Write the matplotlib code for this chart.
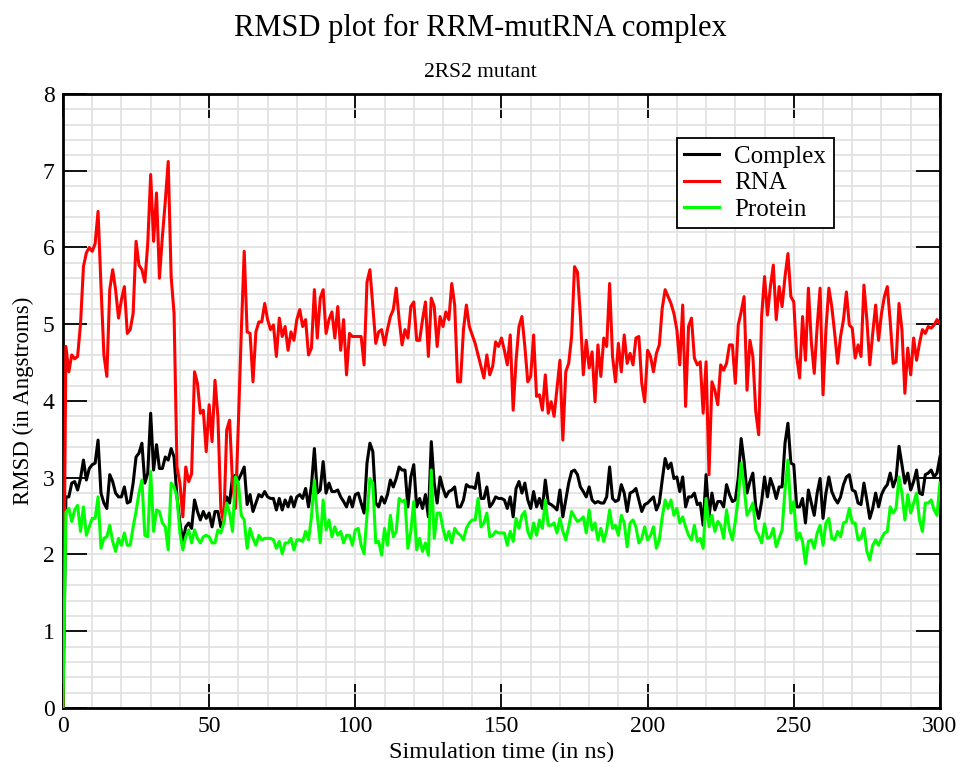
import matplotlib
matplotlib.use("Agg")
import matplotlib.pyplot as plt
from matplotlib.ticker import MultipleLocator
import numpy as np

plt.rcParams['font.family'] = ['Liberation Serif', 'DejaVu Serif']

# RMSD (Angstroms) sampled every 1 ns, 0..300 ns
rna = [0.00,
       4.71, 4.38, 4.60, 4.55, 4.58, 5.00, 5.75, 5.93, 6.00, 5.95,
       6.05, 6.47, 5.50, 4.60, 4.32, 5.45, 5.71, 5.45, 5.08, 5.32,
       5.49, 4.88, 4.93, 5.14, 6.08, 5.77, 5.71, 5.55, 6.05, 6.95,
       6.08, 6.71, 5.60, 6.14, 6.60, 7.12, 5.62, 5.14, 3.14, 2.93,
       2.49, 3.14, 2.95, 3.05, 4.38, 4.23, 3.84, 3.88, 3.34, 3.95,
       3.47, 4.27, 3.80, 2.60, 2.40, 3.62, 3.75, 2.93, 2.60, 3.71,
       4.90, 5.95, 4.90, 4.88, 4.25, 4.90, 5.03, 5.03, 5.27, 5.06,
       4.93, 4.99, 4.58, 5.08, 4.84, 4.97, 4.66, 4.90, 4.79, 5.06,
       5.19, 4.97, 5.06, 4.60, 4.69, 5.45, 4.82, 5.34, 5.45, 4.88,
       5.06, 5.16, 4.82, 5.23, 4.66, 5.06, 4.34, 4.88, 4.84, 4.84,
       4.84, 4.84, 4.47, 5.55, 5.71, 5.23, 4.75, 4.90, 4.93, 4.73,
       4.93, 5.10, 5.19, 5.47, 5.06, 4.73, 4.93, 4.82, 5.23, 5.29,
       4.79, 4.79, 5.06, 5.29, 4.58, 5.34, 5.23, 4.71, 5.10, 4.97,
       5.16, 5.06, 5.53, 5.25, 4.25, 4.25, 4.93, 5.25, 4.97, 4.86,
       4.75, 4.60, 4.45, 4.30, 4.60, 4.34, 4.45, 4.77, 4.71, 4.82,
       4.66, 4.47, 4.86, 3.88, 4.53, 4.97, 5.10, 4.71, 4.25, 4.32,
       4.86, 4.06, 4.08, 3.88, 4.34, 3.84, 3.99, 3.80, 4.16, 4.53,
       3.49, 4.38, 4.49, 4.84, 5.75, 5.68, 5.10, 4.34, 4.79, 4.43,
       4.64, 3.99, 4.73, 4.32, 4.82, 4.71, 5.53, 4.58, 4.25, 4.75,
       4.38, 4.86, 4.49, 4.62, 4.47, 4.82, 4.84, 4.23, 3.99, 4.66,
       4.58, 4.38, 4.62, 4.73, 5.21, 5.45, 5.36, 5.27, 5.14, 4.93,
       4.47, 5.25, 3.93, 4.97, 5.08, 4.56, 4.47, 4.51, 3.84, 4.51,
       3.04, 4.25, 4.14, 3.95, 4.47, 4.40, 4.49, 4.73, 4.73, 4.23,
       4.99, 5.16, 5.36, 4.14, 4.79, 4.58, 3.86, 3.56, 5.10, 5.62,
       5.12, 5.49, 5.77, 5.06, 5.49, 5.23, 5.62, 5.92, 5.36, 5.29,
       4.58, 4.30, 5.10, 4.53, 5.47, 4.77, 4.36, 4.97, 5.47, 4.08,
       4.93, 5.47, 5.23, 4.88, 4.49, 4.84, 5.06, 5.42, 4.99, 4.95,
       4.56, 4.73, 4.58, 5.51, 5.06, 4.47, 4.88, 5.25, 4.79, 5.14,
       5.36, 5.49, 5.03, 4.49, 4.51, 5.27, 4.93, 4.10, 4.69, 4.34,
       4.82, 4.53, 4.75, 4.93, 4.88, 4.97, 4.95, 4.99, 5.06, 5.01]

complex_ = [0.00,
            2.75, 2.75, 2.93, 2.95, 2.84, 2.99, 3.23, 2.97, 3.12, 3.17,
            3.19, 3.49, 2.80, 2.67, 2.60, 3.04, 2.95, 2.80, 2.75, 2.75,
            2.88, 2.67, 2.69, 2.93, 3.27, 3.32, 3.45, 2.93, 3.06, 3.84,
            3.10, 3.43, 3.12, 3.12, 3.27, 3.23, 3.38, 3.27, 2.75, 2.41,
            2.17, 2.36, 2.41, 2.34, 2.71, 2.56, 2.45, 2.56, 2.47, 2.54,
            2.36, 2.56, 2.56, 2.36, 2.45, 2.75, 2.67, 3.01, 3.03, 2.97,
            3.05, 3.14, 2.65, 2.78, 2.56, 2.67, 2.78, 2.75, 2.82, 2.75,
            2.73, 2.73, 2.58, 2.73, 2.58, 2.71, 2.62, 2.75, 2.62, 2.75,
            2.78, 2.73, 2.86, 2.62, 2.90, 3.38, 2.80, 2.84, 3.21, 2.80,
            2.93, 2.82, 2.82, 2.84, 2.75, 2.69, 2.62, 2.75, 2.62, 2.78,
            2.80, 2.67, 2.54, 3.19, 3.45, 3.34, 2.67, 2.62, 2.75, 2.67,
            2.78, 2.97, 2.88, 2.99, 3.14, 3.10, 3.10, 2.62, 3.01, 3.17,
            2.62, 2.73, 2.60, 2.78, 2.49, 3.47, 2.93, 2.67, 3.01, 2.86,
            2.75, 2.82, 2.84, 2.88, 2.62, 2.62, 2.71, 2.91, 2.88, 2.88,
            2.86, 3.06, 2.73, 2.73, 2.88, 2.62, 2.67, 2.75, 2.73, 2.73,
            2.71, 2.60, 2.75, 2.49, 2.86, 2.95, 2.80, 2.93, 2.71, 2.60,
            2.82, 2.62, 2.73, 2.60, 2.97, 2.67, 2.65, 2.62, 2.58, 2.84,
            2.49, 2.71, 2.93, 3.08, 3.10, 3.04, 2.88, 2.82, 2.75, 2.88,
            2.71, 2.67, 2.69, 2.67, 2.67, 2.75, 3.14, 2.73, 2.69, 2.71,
            2.91, 2.80, 2.56, 2.80, 2.82, 2.86, 2.71, 2.56, 2.65, 2.67,
            2.71, 2.75, 2.58, 2.67, 2.97, 3.25, 3.12, 3.19, 2.99, 3.01,
            2.82, 3.01, 2.62, 2.75, 2.75, 2.80, 2.65, 2.67, 2.38, 3.04,
            2.49, 2.80, 2.58, 2.69, 2.69, 2.62, 2.91, 2.78, 2.69, 2.71,
            2.99, 3.51, 3.21, 2.80, 2.95, 3.06, 2.62, 2.47, 2.69, 3.01,
            2.75, 2.99, 2.88, 2.73, 2.88, 2.88, 3.45, 3.71, 3.19, 3.17,
            2.62, 2.62, 2.73, 2.41, 2.84, 2.67, 2.51, 2.80, 2.99, 2.47,
            2.80, 3.01, 2.82, 2.73, 2.67, 2.75, 2.91, 3.01, 3.04, 2.84,
            2.82, 2.67, 2.65, 2.93, 2.71, 2.47, 2.60, 2.80, 2.62, 2.78,
            2.86, 2.91, 3.06, 2.88, 2.99, 3.41, 3.17, 2.93, 3.06, 2.84,
            2.95, 3.10, 2.80, 2.78, 3.04, 3.06, 3.10, 3.01, 3.06, 3.27]

protein = [0.00,
           2.55, 2.60, 2.43, 2.58, 2.64, 2.30, 2.62, 2.25, 2.36, 2.47,
           2.47, 2.75, 2.08, 2.21, 2.23, 2.38, 2.17, 2.04, 2.21, 2.12,
           2.28, 2.12, 2.12, 2.36, 2.56, 2.80, 2.97, 2.25, 2.23, 3.08,
           2.30, 2.58, 2.56, 2.41, 2.36, 2.06, 2.93, 2.88, 2.75, 2.28,
           2.06, 2.23, 2.32, 2.15, 2.32, 2.21, 2.15, 2.23, 2.25, 2.23,
           2.15, 2.15, 2.32, 2.28, 2.41, 2.67, 2.54, 2.30, 3.01, 2.93,
           2.51, 2.45, 2.08, 2.34, 2.21, 2.12, 2.25, 2.19, 2.21, 2.21,
           2.21, 2.19, 2.08, 2.17, 2.01, 2.15, 2.15, 2.21, 2.06, 2.19,
           2.19, 2.17, 2.30, 2.19, 2.49, 2.97, 2.51, 2.15, 2.71, 2.32,
           2.45, 2.23, 2.36, 2.25, 2.30, 2.15, 2.25, 2.25, 2.12, 2.32,
           2.34, 2.12, 2.01, 2.51, 2.99, 2.93, 2.15, 2.17, 1.99, 2.34,
           2.12, 2.51, 2.23, 2.30, 2.73, 2.69, 2.71, 2.08, 2.30, 2.69,
           2.06, 2.21, 2.04, 2.15, 1.99, 3.10, 2.21, 2.54, 2.54, 2.34,
           2.19, 2.30, 2.15, 2.34, 2.28, 2.25, 2.19, 2.34, 2.41, 2.45,
           2.45, 2.73, 2.36, 2.41, 2.54, 2.23, 2.25, 2.30, 2.28, 2.28,
           2.28, 2.12, 2.30, 2.17, 2.47, 2.34, 2.51, 2.56, 2.30, 2.21,
           2.41, 2.25, 2.45, 2.34, 2.71, 2.38, 2.38, 2.41, 2.28, 2.47,
           2.30, 2.19, 2.36, 2.56, 2.49, 2.43, 2.45, 2.49, 2.28, 2.58,
           2.32, 2.41, 2.19, 2.34, 2.17, 2.32, 2.58, 2.34, 2.38, 2.25,
           2.51, 2.41, 2.10, 2.41, 2.45, 2.36, 2.15, 2.21, 2.36, 2.19,
           2.25, 2.36, 2.08, 2.19, 2.49, 2.71, 2.60, 2.71, 2.51, 2.60,
           2.41, 2.49, 2.36, 2.25, 2.19, 2.38, 2.17, 2.21, 2.08, 2.73,
           2.36, 2.51, 2.30, 2.43, 2.38, 2.21, 2.58, 2.32, 2.19, 2.43,
           2.73, 3.19, 2.88, 2.51, 2.58, 2.67, 2.32, 2.25, 2.15, 2.40,
           2.21, 2.23, 2.34, 2.10, 2.21, 2.32, 2.84, 3.23, 2.54, 2.69,
           2.19, 2.28, 2.17, 1.88, 2.17, 2.19, 2.08, 2.28, 2.38, 2.12,
           2.41, 2.47, 2.21, 2.19, 2.30, 2.23, 2.41, 2.43, 2.60, 2.41,
           2.41, 2.19, 2.21, 2.34, 2.04, 1.93, 2.12, 2.19, 2.12, 2.21,
           2.28, 2.30, 2.62, 2.54, 2.60, 3.01, 2.80, 2.45, 2.78, 2.54,
           2.67, 2.80, 2.45, 2.30, 2.67, 2.67, 2.71, 2.58, 2.51, 2.93]

time_ns = np.arange(len(rna))

fig = plt.figure(figsize=(9.6, 7.62), dpi=100)
ax = fig.add_axes([0.0656, 0.0709, 0.9135, 0.8058])

ax.plot(time_ns, complex_, color='black', lw=2.2, label='Complex', zorder=3)
ax.plot(time_ns, rna, color='#ff0000', lw=2.2, label='RNA', zorder=3)
ax.plot(time_ns, protein, color='#00ff00', lw=2.2, label='Protein', zorder=3)

ax.set_xlim(0, 300)
ax.set_ylim(0, 8)
ax.xaxis.set_major_locator(MultipleLocator(50))
ax.xaxis.set_minor_locator(MultipleLocator(10))
ax.yaxis.set_major_locator(MultipleLocator(1))
ax.yaxis.set_minor_locator(MultipleLocator(0.2))
ax.grid(which='both', color='#e0e0e0', lw=1.2, zorder=0)
ax.set_axisbelow(True)
ax.tick_params(which='major', direction='in', length=17, width=1.3, top=True, right=True,
               labelsize=17, pad=6, colors='black')
ax.tick_params(which='minor', length=0, top=True, right=True)
for s in ax.spines.values():
    s.set_linewidth(2)

ax.set_xlabel('Simulation time (in ns)', fontsize=17.5, labelpad=3)
ax.set_ylabel('RMSD (in Angstroms)', fontsize=16.5, labelpad=6)
fig.text(0.5, 0.963, 'RMSD plot for RRM-mutRNA complex', ha='center', va='center', fontsize=22)
fig.text(0.5, 0.905, '2RS2 mutant', ha='center', va='center', fontsize=15.5)

leg = ax.legend(loc='upper left', bbox_to_anchor=(0.700, 0.928), fontsize=18, frameon=True,
                fancybox=False, edgecolor='black', framealpha=1, handlelength=1.4,
                handletextpad=0.6, borderpad=0.3, borderaxespad=0, labelspacing=0.15)
leg.get_frame().set_linewidth(1.3)

fig.savefig('out.png', dpi=100)
